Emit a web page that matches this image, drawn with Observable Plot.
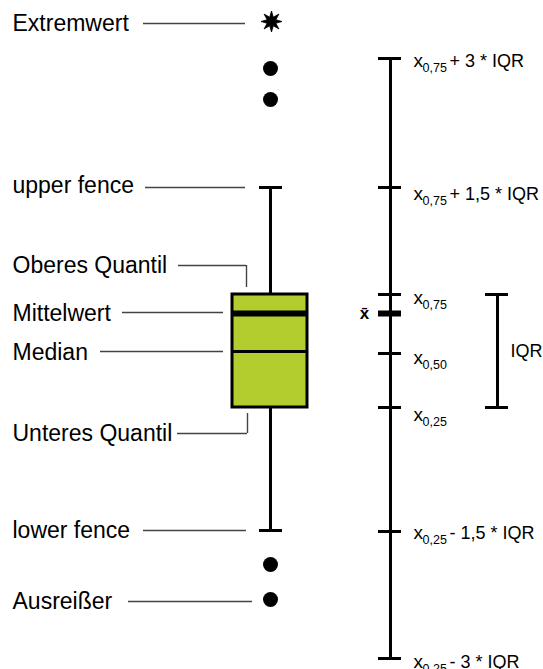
<!DOCTYPE html>
<html><head><meta charset="utf-8">
<script src="https://cdn.jsdelivr.net/npm/d3@7"></script>
<script src="https://cdn.jsdelivr.net/npm/@observablehq/plot@0.6"></script>
<style>body{margin:0;background:#fff} svg{display:block}</style>
</head><body><div id="chart"></div>
<script>
// ---- Data (value axis: arbitrary units, higher = further up) ----
const boxStatNames  = ["upperFence", "q3", "mean", "median", "q1", "lowerFence"];
const boxStatValues = [482, 375, 356, 318, 262, 139];
const outlierValues = [601, 570, 105, 70];
const extremeValues = [648];

const scaleTickNames  = ["q75+3IQR", "q75+1.5IQR", "q75", "q50", "q25", "q25-1.5IQR", "q25-3IQR"];
const scaleTickValues = [611, 482, 375, 316, 262, 138, 11];
const scaleMeanValue  = [356];
const scaleLabelValues = [609, 476, 372, 312, 255, 137, 8];
const scaleLabelSubs   = ["0,75", "0,75", "0,75", "0,50", "0,25", "0,25", "0,25"];
const scaleLabelSuffix = ["+ 3 * IQR", "+ 1,5 * IQR", "", "", "", "- 1,5 * IQR", "- 3 * IQR"];

const leftLabels      = ["Extremwert", "upper fence", "Oberes Quantil", "Mittelwert", "Median", "Unteres Quantil", "lower fence", "Ausreißer"];
const leftLabelValues = [646, 484, 404, 356, 317, 236, 139, 68];
const leaderValues    = [646, 482, 404, 357, 318, 236, 139, 68];
const leaderElbowTo   = [null, null, 382, null, null, 256, null, null];

// ---- Layout (pixels on a 543-wide canvas) ----
const leaderX1 = [143, 145, 178, 122, 100, 177, 143, 128];
const leaderX2 = [245, 245, 246, 223, 223, 247, 246, 252];
const BOX_L = 232, BOX_R = 307, WHISKER = 270, CAP_L = 259, CAP_R = 282;
const SCALE_X = 390, TICK_L = 378, TICK_R = 401, IQR_X = 497;
const font = "Liberation Sans, Arial, Helvetica, sans-serif";

const q = Object.fromEntries(boxStatNames.map((n, i) => [n, boxStatValues[i]]));
const box = [q];
const leaders = leftLabels.map((l, i) => ({l, y: leaderValues[i], x1: leaderX1[i], x2: leaderX2[i], elbow: leaderElbowTo[i]}));
const rightLabels = scaleLabelValues.map((v, i) => ({v, sub: scaleLabelSubs[i], suf: scaleLabelSuffix[i]}));

// 8-pointed filled star symbol
const star8 = {
  draw(ctx, size) {
    const R = Math.sqrt(size / Math.PI), r = R * 0.45, n = 8;
    for (let k = 0; k < 2 * n; k++) {
      const a = -Math.PI / 2 + k * Math.PI / n;
      const rr = k % 2 ? r : R;
      const px = rr * Math.cos(a), py = rr * Math.sin(a);
      k ? ctx.lineTo(px, py) : ctx.moveTo(px, py);
    }
    ctx.closePath();
  }
};

const chart = Plot.plot({
  width: 543, height: 669, margin: 0,
  style: {fontFamily: font, background: "white"},
  x: {type: "linear", domain: [0, 543], range: [0, 543], axis: null},
  y: {type: "linear", domain: [0, 669], range: [669, 0], axis: null},
  marks: [
    // leader lines
    Plot.ruleY(leaders, {y: "y", x1: "x1", x2: "x2", stroke: "#444", strokeWidth: 1.4}),
    Plot.ruleX(leaders.filter(d => d.elbow != null), {x: "x2", y1: "y", y2: "elbow", stroke: "#444", strokeWidth: 1.4}),
    // left labels
    Plot.text(leftLabels, {x: 12, y: (d, i) => leftLabelValues[i], text: d => d, textAnchor: "start", fontSize: 23, fill: "black"}),
    // whiskers and caps
    Plot.ruleX(box, {x: WHISKER, y1: "q3", y2: "upperFence", strokeWidth: 3}),
    Plot.ruleX(box, {x: WHISKER, y1: "q1", y2: "lowerFence", strokeWidth: 3}),
    Plot.ruleY(box, {y: "upperFence", x1: CAP_L, x2: CAP_R, strokeWidth: 3}),
    Plot.ruleY(box, {y: "lowerFence", x1: CAP_L, x2: CAP_R, strokeWidth: 3}),
    // box
    Plot.rect(box, {x1: BOX_L, x2: BOX_R, y1: "q1", y2: "q3", fill: "#b3cd2e", stroke: "black", strokeWidth: 3}),
    Plot.ruleY(box, {y: "median", x1: BOX_L, x2: BOX_R, strokeWidth: 3}),
    Plot.ruleY(box, {y: "mean", x1: BOX_L, x2: BOX_R, strokeWidth: 6}),
    // outliers and extreme value
    Plot.dot(outlierValues, {x: WHISKER, y: d => d, r: 7.5, fill: "black"}),
    Plot.dot(extremeValues, {x: WHISKER + 1, y: d => d, r: 10.5, symbol: star8, fill: "black", stroke: "black", strokeWidth: 0.8}),
    // right reference scale
    Plot.ruleX([0], {x: SCALE_X, y1: d3.min(scaleTickValues), y2: d3.max(scaleTickValues), strokeWidth: 3}),
    Plot.ruleY(scaleTickValues, {y: d => d, x1: TICK_L, x2: TICK_R, strokeWidth: 3}),
    Plot.ruleY(scaleMeanValue, {y: d => d, x1: TICK_L, x2: TICK_R, strokeWidth: 6}),
    Plot.text(scaleMeanValue, {x: 364, y: d => d, text: () => "x\u0304", fontSize: 17, fontWeight: "bold", fill: "black"}),
    Plot.text(rightLabels, {x: 413, y: "v", text: () => "x", textAnchor: "start", fontSize: 19, fill: "black"}),
    Plot.text(rightLabels, {x: 422, y: "v", dy: 7, text: "sub", textAnchor: "start", fontSize: 12.5, fill: "black"}),
    Plot.text(rightLabels, {x: 449, y: "v", dy: 1, text: "suf", textAnchor: "start", fontSize: 18, fill: "black"}),
    // IQR bracket
    Plot.ruleX(box, {x: IQR_X, y1: "q1", y2: "q3", strokeWidth: 3}),
    Plot.ruleY(box, {y: "q3", x1: IQR_X - 12, x2: IQR_X + 11, strokeWidth: 3}),
    Plot.ruleY(box, {y: "q1", x1: IQR_X - 12, x2: IQR_X + 11, strokeWidth: 3}),
    Plot.text(box, {x: 510, y: "median", text: () => "IQR", textAnchor: "start", fontSize: 18, fill: "black"})
  ]
});
document.getElementById("chart").append(chart);
</script>
</body></html>
